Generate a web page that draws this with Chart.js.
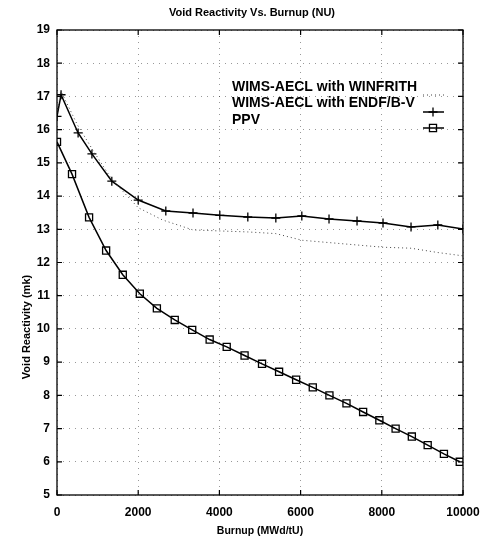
<!DOCTYPE html>
<html><head><meta charset="utf-8">
<style>html,body{margin:0;padding:0;background:#fff}#wrap{width:483px;height:541px}</style>
<script src="https://cdn.jsdelivr.net/npm/chart.js@4.4.1/dist/chart.umd.min.js"></script>
</head><body><div id="wrap"><canvas id="c" width="483" height="541"></canvas></div>
<script>
const titleText = 'Void Reactivity Vs. Burnup (NU)';
const xTitle = 'Burnup (MWd/tU)';
const yTitle = 'Void Reactivity (mk)';
const seriesNames = ['WIMS-AECL with WINFRITH', 'WIMS-AECL with ENDF/B-V', 'PPV'];
const xTicks = [0, 2000, 4000, 6000, 8000, 10000];
const yTicks = [5, 6, 7, 8, 9, 10, 11, 12, 13, 14, 15, 16, 17, 18, 19];

const winfrithBurnup = [0, 100, 500, 900, 1350, 2000, 2600, 3350, 4010, 4700, 5390, 6030, 8030, 8720, 9380, 10000];
const winfrithVoid   = [16.5, 17.15, 16.15, 15.35, 14.5, 13.65, 13.28, 12.98, 12.95, 12.92, 12.87, 12.67, 12.46, 12.43, 12.3, 12.2];

const endfBurnup = [0, 100, 520, 860, 1350, 2000, 2680, 3350, 4010, 4700, 5390, 6030, 6700, 7390, 8030, 8720, 9380, 10000];
const endfVoid   = [16.4, 17.05, 15.9, 15.27, 14.45, 13.88, 13.55, 13.49, 13.42, 13.37, 13.34, 13.4, 13.31, 13.25, 13.19, 13.07, 13.13, 13.01];

const ppvBurnup = [0, 370, 790, 1210, 1620, 2040, 2460, 2900, 3330, 3760, 4180, 4620, 5050, 5470, 5890, 6300, 6710, 7130, 7540, 7940, 8340, 8740, 9130, 9530, 9920];
const ppvVoid   = [15.63, 14.66, 13.36, 12.36, 11.63, 11.06, 10.62, 10.27, 9.97, 9.68, 9.46, 9.2, 8.95, 8.71, 8.47, 8.24, 8.0, 7.76, 7.5, 7.25, 7.0, 6.76, 6.5, 6.24, 6.0];

const FAM = '"Liberation Sans", Arial, sans-serif';
const pts = (xs, ys) => xs.map((v, i) => ({x: v, y: ys[i]}));

const decor = {
  id: 'decor',
  afterDraw(chart) {
    const {ctx, chartArea: a, scales: {x, y}} = chart;
    ctx.save();
    // frame
    ctx.strokeStyle = '#000';
    ctx.lineWidth = 1.3;
    ctx.strokeRect(a.left, a.top, a.right - a.left, a.bottom - a.top);
    // inward ticks
    ctx.lineWidth = 1.2;
    ctx.beginPath();
    xTicks.forEach(v => {
      const px = x.getPixelForValue(v);
      ctx.moveTo(px, a.bottom); ctx.lineTo(px, a.bottom - 5);
      ctx.moveTo(px, a.top); ctx.lineTo(px, a.top + 5);
    });
    yTicks.forEach(v => {
      const py = y.getPixelForValue(v);
      ctx.moveTo(a.left, py); ctx.lineTo(a.left + 5, py);
      ctx.moveTo(a.right, py); ctx.lineTo(a.right - 5, py);
    });
    ctx.stroke();
    // title
    ctx.fillStyle = '#000';
    ctx.font = 'bold 11px ' + FAM;
    ctx.textAlign = 'center';
    ctx.textBaseline = 'middle';
    ctx.fillText(titleText, 252, 13);
    // y title
    ctx.save();
    ctx.translate(27, 327);
    ctx.rotate(-Math.PI / 2);
    ctx.font = 'bold 11px ' + FAM;
    ctx.fillText(yTitle, 0, 0);
    ctx.restore();
    // legend
    ctx.font = 'bold 14px ' + FAM;
    ctx.textAlign = 'left';
    const rows = [87, 103, 120];
    const samp = [95, 112, 128];
    chart.data.datasets.forEach((ds, i) => {
      ctx.fillStyle = '#000';
      ctx.fillText(seriesNames[i], 232, rows[i]);
      const sy = samp[i];
      ctx.save();
      ctx.strokeStyle = ds.borderColor;
      ctx.lineWidth = ds.borderWidth;
      ctx.setLineDash(ds.borderDash || []);
      ctx.beginPath(); ctx.moveTo(423, sy); ctx.lineTo(444, sy); ctx.stroke();
      ctx.setLineDash([]);
      if (ds.pointRadius > 0) {
        ctx.strokeStyle = ds.pointBorderColor;
        ctx.fillStyle = ds.pointBackgroundColor;
        ctx.lineWidth = ds.pointBorderWidth;
        Chart.helpers.drawPoint(ctx, {pointStyle: ds.pointStyle, radius: ds.pointRadius, rotation: 0, borderWidth: ds.pointBorderWidth}, 433, sy);
      }
      ctx.restore();
    });
    ctx.restore();
  }
};

new Chart(document.getElementById('c'), {
  type: 'line',
  data: {
    datasets: [
      {label: seriesNames[0], data: pts(winfrithBurnup, winfrithVoid), borderColor: '#444', borderWidth: 1, borderDash: [1, 3], pointRadius: 0, tension: 0, fill: false},
      {label: seriesNames[1], data: pts(endfBurnup, endfVoid), borderColor: '#000', borderWidth: 1.5, pointStyle: 'cross', pointRadius: 4.5, pointBorderWidth: 1.3, pointBorderColor: '#000', pointBackgroundColor: 'rgba(0,0,0,0)', tension: 0, fill: false},
      {label: seriesNames[2], data: pts(ppvBurnup, ppvVoid), borderColor: '#000', borderWidth: 1.5, pointStyle: 'rect', pointRadius: 5, pointBorderWidth: 1.3, pointBorderColor: '#000', pointBackgroundColor: 'rgba(0,0,0,0)', tension: 0, fill: false}
    ]
  },
  options: {
    responsive: false, animation: false, devicePixelRatio: 1,
    layout: {padding: {top: 30, right: 0, left: 0, bottom: 0}},
    plugins: {legend: {display: false}, tooltip: {enabled: false}, title: {display: false}},
    scales: {
      x: {
        type: 'linear', min: 0, max: 10000,
        afterBuildTicks(s) { s.ticks = xTicks.map(v => ({value: v})); },
        afterFit(s) { s.height = 46; s.paddingRight = 20; s.paddingLeft = 0; },
        ticks: {font: {family: FAM, size: 12, weight: 'bold'}, color: '#000', padding: 10, maxRotation: 0, autoSkip: false, callback: v => String(v)},
        grid: {color: 'rgba(0,0,0,0.4)', lineWidth: 1, drawTicks: false},
        border: {display: false, dash: [1, 5]},
        title: {display: true, text: xTitle, color: '#000', font: {family: FAM, size: 10.5, weight: 'bold'}, padding: {top: 0, bottom: 4}}
      },
      y: {
        type: 'linear', min: 5, max: 19,
        afterBuildTicks(s) { s.ticks = yTicks.map(v => ({value: v})); },
        afterFit(s) { s.width = 57; },
        ticks: {font: {family: FAM, size: 12, weight: 'bold'}, color: '#000', padding: 7, autoSkip: false, callback: v => String(v)},
        grid: {color: 'rgba(0,0,0,0.4)', lineWidth: 1, drawTicks: false},
        border: {display: false, dash: [1, 5]}
      }
    }
  },
  plugins: [decor]
});
</script></body></html>
